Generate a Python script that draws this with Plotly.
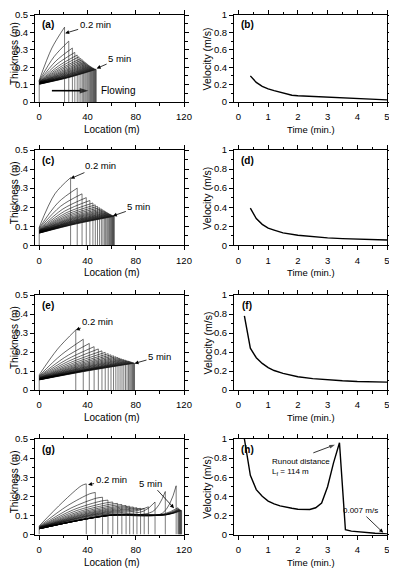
import plotly.graph_objects as go

W, H = 397, 569
OFF = 8  # page body margin of the html page
FW, FH = W - OFF, H - OFF

# ---------------- data ----------------
TIMES = [0.2, 0.4, 0.6, 0.8, 1.0, 1.2, 1.4, 1.6, 1.8, 2.0, 2.2, 2.4, 2.6,
         2.8, 3.0, 3.2, 3.4, 3.6, 3.8, 4.0, 4.2, 4.4, 4.6, 4.8, 5.0]

# panel (a): thickness profiles (front location, front height, height at x=0, height at mid-length)
a_front = [21, 24.5, 27.5, 29.5, 31.5, 33, 34.5, 35.7, 36.8, 37.8, 38.7, 39.6, 40.4,
           41.2, 41.9, 42.6, 43.2, 43.8, 44.4, 44.9, 45.4, 45.9, 46.4, 46.8, 47.2]
a_hf = [0.43, 0.35, 0.31, 0.285, 0.27, 0.26, 0.25, 0.243, 0.236, 0.23, 0.225, 0.22, 0.215,
        0.211, 0.207, 0.204, 0.201, 0.198, 0.196, 0.194, 0.192, 0.19, 0.189, 0.188, 0.187]
a_h0 = [0.125, 0.122, 0.12, 0.118, 0.116, 0.115, 0.114, 0.113, 0.112, 0.111, 0.11, 0.11, 0.109,
        0.108, 0.108, 0.107, 0.106, 0.106, 0.105, 0.105, 0.104, 0.104, 0.103, 0.103, 0.102]
a_mid = [0.31, 0.26, 0.235, 0.218, 0.206, 0.197, 0.19, 0.184, 0.178, 0.173, 0.169, 0.165, 0.162,
         0.159, 0.156, 0.153, 0.151, 0.149, 0.147, 0.145, 0.143, 0.142, 0.141, 0.14, 0.139]

# panel (c)
c_front = [26, 31.5, 35.5, 39, 42, 44.5, 46.5, 48.3, 50, 51.5, 52.8, 54, 55,
           56, 56.8, 57.6, 58.3, 59, 59.6, 60.1, 60.6, 61, 61.4, 61.8, 62.2]
c_hf = [0.355, 0.30, 0.27, 0.25, 0.235, 0.222, 0.212, 0.204, 0.197, 0.191, 0.186, 0.181, 0.177,
        0.173, 0.17, 0.167, 0.164, 0.162, 0.16, 0.158, 0.156, 0.155, 0.154, 0.153, 0.152]
c_h0 = [0.095, 0.09, 0.087, 0.084, 0.082, 0.08, 0.078, 0.077, 0.076, 0.075, 0.074, 0.073, 0.072,
        0.071, 0.07, 0.069, 0.068, 0.068, 0.067, 0.066, 0.066, 0.065, 0.065, 0.064, 0.064]
c_mid = [0.27, 0.225, 0.205, 0.19, 0.179, 0.17, 0.163, 0.157, 0.152, 0.147, 0.143, 0.14, 0.137,
         0.134, 0.131, 0.129, 0.127, 0.125, 0.123, 0.121, 0.119, 0.117, 0.116, 0.114, 0.113]

# panel (e)
e_front = [30.3, 36.5, 41.5, 45.5, 49, 52, 54.7, 57.2, 59.5, 61.6, 63.5, 65.3, 67,
           68.6, 70.1, 71.5, 72.8, 74, 75, 75.9, 76.7, 77.4, 78, 78.5, 79]
e_hf = [0.316, 0.267, 0.245, 0.228, 0.216, 0.206, 0.198, 0.191, 0.185, 0.18, 0.175, 0.171, 0.167,
        0.163, 0.16, 0.157, 0.154, 0.152, 0.15, 0.148, 0.146, 0.144, 0.143, 0.142, 0.141]
e_h0 = [0.08, 0.075, 0.072, 0.07, 0.068, 0.066, 0.064, 0.063, 0.062, 0.061, 0.06, 0.059, 0.058,
        0.058, 0.057, 0.057, 0.056, 0.056, 0.055, 0.055, 0.055, 0.054, 0.054, 0.054, 0.053]
e_mid = [0.215, 0.185, 0.17, 0.16, 0.152, 0.145, 0.139, 0.134, 0.13, 0.126, 0.123, 0.12, 0.117,
         0.115, 0.113, 0.111, 0.109, 0.107, 0.106, 0.105, 0.104, 0.103, 0.102, 0.101, 0.1]

# panel (g)  (extra knee height at 90 % of the length for the spiky fronts)
g_front = [39, 46.5, 52.5, 57, 61, 65, 68.5, 72, 75, 78, 81, 84, 87,
           90.5, 96, 104.5, 113.5, 115, 115.6, 116.1, 116.5, 116.9, 117.3, 117.6, 118]
g_hf = [0.265, 0.22, 0.195, 0.18, 0.17, 0.163, 0.157, 0.152, 0.148, 0.144, 0.14, 0.137, 0.136,
        0.145, 0.17, 0.225, 0.255, 0.14, 0.135, 0.132, 0.13, 0.128, 0.127, 0.126, 0.125]
g_h0 = [0.045, 0.042, 0.04, 0.038, 0.037, 0.036, 0.035, 0.034, 0.034, 0.033, 0.033, 0.032, 0.032,
        0.032, 0.031, 0.031, 0.031, 0.03, 0.03, 0.03, 0.03, 0.03, 0.03, 0.03, 0.03]
g_mid = [0.17, 0.15, 0.138, 0.13, 0.124, 0.119, 0.115, 0.112, 0.109, 0.107, 0.105, 0.103, 0.102,
         0.101, 0.1, 0.1, 0.1, 0.1, 0.1, 0.1, 0.1, 0.1, 0.1, 0.1, 0.1]
g_knee = [0.256, 0.213, 0.19, 0.175, 0.165, 0.158, 0.152, 0.147, 0.143, 0.139, 0.135, 0.132, 0.128,
          0.125, 0.122, 0.12, 0.112, 0.108, 0.106, 0.105, 0.104, 0.104, 0.104, 0.104, 0.104]

# velocity panels
b_t = [0.4, 0.6, 0.8, 1.0, 1.2, 1.4, 1.6, 1.8, 2.0, 2.5, 3.0, 3.5, 4.0, 4.5, 5.0]
b_v = [0.30, 0.225, 0.18, 0.15, 0.13, 0.115, 0.095, 0.077, 0.072, 0.064, 0.055, 0.045, 0.04, 0.036, 0.025]

d_t = [0.4, 0.6, 0.8, 1.0, 1.2, 1.5, 2.0, 2.5, 3.0, 3.5, 4.0, 4.5, 5.0]
d_v = [0.39, 0.28, 0.22, 0.18, 0.16, 0.13, 0.105, 0.09, 0.078, 0.07, 0.063, 0.058, 0.055]

f_t = [0.2, 0.4, 0.6, 0.8, 1.0, 1.2, 1.5, 2.0, 2.5, 3.0, 3.5, 4.0, 4.5, 5.0]
f_v = [0.78, 0.44, 0.34, 0.28, 0.235, 0.205, 0.175, 0.14, 0.12, 0.105, 0.097, 0.09, 0.087, 0.083]

h_t = TIMES
h_v = [1.0, 0.62, 0.47, 0.40, 0.35, 0.32, 0.30, 0.285, 0.275, 0.265, 0.262, 0.262, 0.28,
       0.33, 0.50, 0.75, 0.96, 0.05, 0.035, 0.028, 0.022, 0.017, 0.013, 0.01, 0.007]

# pointer arrows (data coordinates: tail -> tip)
flow_x = [10.5, 40.7]
flow_y = [0.065, 0.065]
runout_t = [2.52, 3.25]
runout_v = [0.855, 0.94]

PANEL_LABELS = ["(a)", "(b)", "(c)", "(d)", "(e)", "(f)", "(g)", "(h)"]
LOC_TICKS = [0, 40, 80, 120]
TIME_TICKS = [0, 1, 2, 3, 4, 5]

# ---------------- layout geometry (page pixels) ----------------
ROWS = [(15, 102), (150, 245.3), (295, 390), (439, 534.5)]
LEFT = (35, 184)
RIGHT = (234, 387)

FONT = "Liberation Sans"

fig = go.Figure()


def fx(p):
    return min(1.0, max(0.0, (p - OFF) / FW))


def fy(p):
    return min(1.0, max(0.0, 1 - (p - OFF) / FH))


def axn(idx):
    return "" if idx == 1 else str(idx)


def add_profiles(idx, front, hf, h0, mid, knee=None):
    cx, cy = [], []
    vx, vy = [], []
    for k in range(len(front)):
        xf = front[k]
        if knee is None:
            cx += [0, xf / 2, xf, None]
            cy += [h0[k], mid[k], hf[k], None]
        else:
            cx += [0, xf / 2, xf * 0.9, xf, None]
            cy += [h0[k], mid[k], knee[k], hf[k], None]
        vx += [xf, xf, None]
        vy += [hf[k], 0, None]
    vx += [0, 0, None]
    vy += [0, max(h0), None]
    a = axn(idx)
    fig.add_trace(go.Scatter(x=cx, y=cy, mode="lines",
                             line=dict(color="black", width=0.6, shape="spline", smoothing=0.9),
                             xaxis="x" + a, yaxis="y" + a, hoverinfo="skip", showlegend=False))
    fig.add_trace(go.Scatter(x=vx, y=vy, mode="lines", line=dict(color="#222222", width=0.6),
                             xaxis="x" + a, yaxis="y" + a, hoverinfo="skip", showlegend=False))


def add_velocity(idx, t, v):
    a = axn(idx)
    fig.add_trace(go.Scatter(x=t, y=v, mode="lines", line=dict(color="black", width=1.4),
                             xaxis="x" + a, yaxis="y" + a, hoverinfo="skip", showlegend=False))


def add_pointer(idx, xs, ys, width, size):
    a = axn(idx)
    fig.add_trace(go.Scatter(x=xs, y=ys, mode="lines+markers",
                             line=dict(color="black", width=width),
                             marker=dict(symbol=["circle", "arrow"], size=[0, size], color="black",
                                         angleref="previous", line=dict(width=0)),
                             xaxis="x" + a, yaxis="y" + a, hoverinfo="skip", showlegend=False))


add_profiles(1, a_front, a_hf, a_h0, a_mid)
add_velocity(2, b_t, b_v)
add_profiles(3, c_front, c_hf, c_h0, c_mid)
add_velocity(4, d_t, d_v)
add_profiles(5, e_front, e_hf, e_h0, e_mid)
add_velocity(6, f_t, f_v)
add_profiles(7, g_front, g_hf, g_h0, g_mid, g_knee)
add_velocity(8, h_t, h_v)
add_pointer(1, flow_x, flow_y, 1.6, 9)
add_pointer(8, runout_t, runout_v, 0.8, 6)

axis_common = dict(showline=True, linecolor="black", linewidth=1, mirror="allticks",
                   ticks="outside", ticklen=4, tickwidth=1, tickcolor="black",
                   showgrid=False, zeroline=False, fixedrange=True, automargin=False,
                   ticklabeloverflow="allow",
                   tickfont=dict(family=FONT, size=9.5, color="black"))

layout = dict(width=FW, height=FH, margin=dict(l=0, r=0, t=0, b=0, pad=0, autoexpand=False),
              paper_bgcolor="white", plot_bgcolor="white", showlegend=False)


def ptext(text, px, py, size, angle=0, bold=False):
    return dict(text=("<b>%s</b>" % text) if bold else text, xref="paper", yref="paper",
                x=fx(px), y=fy(py), xanchor="center", yanchor="middle", textangle=angle,
                showarrow=False, font=dict(family=FONT, size=size, color="black"))


annotations = []
for r, (top, bot) in enumerate(ROWS):
    for c in range(2):
        idx = 2 * r + c + 1
        dom = LEFT if c == 0 else RIGHT
        xname = "xaxis" if idx == 1 else "xaxis%d" % idx
        yname = "yaxis" if idx == 1 else "yaxis%d" % idx
        anchor_x = "y" if idx == 1 else "y%d" % idx
        anchor_y = "x" if idx == 1 else "x%d" % idx
        if c == 0:
            xa = dict(range=[-3.5, 120], tickvals=LOC_TICKS,
                      minor=dict(dtick=20, ticklen=2.5, tickcolor="black", ticks="outside"))
            ya = dict(range=[0, 0.5], dtick=0.1, tick0=0,
                      minor=dict(dtick=0.05, ticklen=2.5, tickcolor="black", ticks="outside"))
        else:
            xa = dict(range=[-0.15, 5], tickvals=TIME_TICKS,
                      minor=dict(dtick=0.5, ticklen=2.5, tickcolor="black", ticks="outside"))
            ya = dict(range=[0, 1], dtick=0.2, tick0=0,
                      minor=dict(dtick=0.1, ticklen=2.5, tickcolor="black", ticks="outside"))
        layout[xname] = dict(axis_common, domain=[fx(dom[0]), fx(dom[1])], anchor=anchor_x,
                             ticklabelstandoff=2, **xa)
        layout[yname] = dict(axis_common, domain=[fy(bot), fy(top)], anchor=anchor_y,
                             ticklabelstandoff=0, **ya)

        # panel label
        annotations.append(ptext(PANEL_LABELS[idx - 1], dom[0] + 13, top + 10, 10, bold=True))
        # axis titles
        if c == 0:
            annotations.append(ptext("Location (m)", 112, bot + 27.5, 10))
            annotations.append(ptext("Thickness (m)", 14.5, (top + bot) / 2 - 5, 10, angle=-90))
        else:
            annotations.append(ptext("Time (min.)", (dom[0] + dom[1]) / 2, bot + 27.5, 9.5))
            annotations.append(ptext("Velocity (m/s)", 207, (top + bot) / 2, 10.5, angle=-90))

afont = dict(family=FONT, size=9.5, color="black")
arrow = dict(showarrow=True, arrowhead=2, arrowsize=1, arrowwidth=0.8, arrowcolor="black", font=afont)

# (a)
annotations.append(dict(arrow, text="0.2 min", xref="x", yref="y", x=21.5, y=0.395, ax=30, ay=-9))
annotations.append(dict(arrow, text="5 min", xref="x", yref="y", x=47.6, y=0.193, ax=23, ay=-10))
annotations.append(dict(text="Flowing", xref="x", yref="y", x=65, y=0.067, showarrow=False,
                        font=dict(family=FONT, size=10, color="black")))
# (c)
annotations.append(dict(arrow, text="0.2 min", xref="x3", yref="y3", x=26, y=0.35, ax=30, ay=-13))
annotations.append(dict(arrow, text="5 min", xref="x3", yref="y3", x=61, y=0.154, ax=26, ay=-9))
# (e)
annotations.append(dict(arrow, text="0.2 min", xref="x5", yref="y5", x=30.3, y=0.316, ax=22, ay=-8))
annotations.append(dict(arrow, text="5 min", xref="x5", yref="y5", x=79, y=0.14, ax=25, ay=-7))
# (g)
annotations.append(dict(arrow, text="0.2 min", xref="x7", yref="y7", x=40.5, y=0.26, ax=23, ay=-5))
annotations.append(dict(arrow, text="5 min", xref="x7", yref="y7", x=111.7, y=0.138, ax=-23, ay=-25))
# (h)
annotations.append(dict(text="Runout distance<br>L<sub>f</sub> = 114 m", xref="x8", yref="y8",
                        x=1.06, y=0.71, xanchor="left", align="left", showarrow=False,
                        font=dict(family=FONT, size=8, color="black")))
annotations.append(dict(arrow, text="0.007 m/s", xref="x8", yref="y8", x=4.87, y=0.02, ax=-23, ay=-22,
                        font=dict(family=FONT, size=8, color="black")))

layout["annotations"] = annotations
fig.update_layout(**layout)
fig.write_html("out.html")
